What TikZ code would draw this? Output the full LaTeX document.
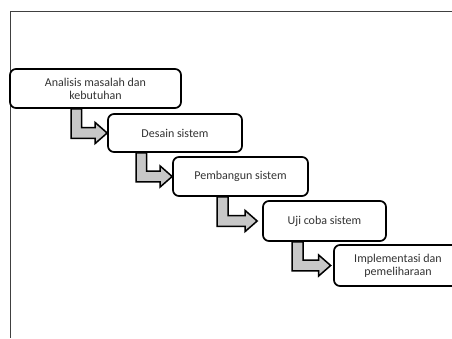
\documentclass[tikz,border=0pt]{standalone}
\usepackage{fontspec}
\setmainfont{Carlito}
\usetikzlibrary{calc,backgrounds}
\tikzset{
  stagebox/.style={draw=black, line width=1.7pt, rounded corners=6pt, fill=white,
    align=center, inner sep=0pt, font=\fontsize{12}{13}\selectfont, text=black!80},
  bentarrow/.style={draw=black, line width=1.5pt, fill=black!22, line join=miter},
  framerule/.style={draw=black!75, line width=0.9pt}
}
\begin{document}
\begin{tikzpicture}[x=1pt,y=1pt]
\clip (0,0) rectangle (452,338);
\useasboundingbox (0,0) rectangle (452,338);
\node[stagebox, minimum width=171, minimum height=39] (b1) at (95.5,249.5) {Analisis masalah dan\\kebutuhan};
\node[stagebox, minimum width=134, minimum height=38] (b2) at (175,205) {Desain sistem};
\node[stagebox, minimum width=135, minimum height=39] (b3) at (240.5,161.5) {Pembangun sistem};
\node[stagebox, minimum width=123, minimum height=40] (b4) at (324.5,117) {Uji coba sistem};
\node[stagebox, minimum width=128, minimum height=41] (b5) at (398,72.5) {Implementasi dan\\pemeliharaan};
\begin{scope}[on background layer]
\draw[framerule] (452,327) -- (10,327) -- (10,0);
\foreach \a/\b/\g/\xl/\xr in {b1/b2/0/36/25.5, b2/b3/0/36/25.5, b3/b4/5/40/29, b4/b5/2.5/38.5/27.5}{
  \path[bentarrow] let \p1=(\a.south), \p2=($(\b.west)+(-\g,0)$) in
    (\x2-\xl,\y1) -- (\x2-\xr,\y1) -- (\x2-\xr,\y2+5.3) -- (\x2-12,\y2+5.3)
    -- (\x2-12,\y2+10.5) -- (\x2,\y2) -- (\x2-12,\y2-10.5) -- (\x2-12,\y2-5.3)
    -- (\x2-\xl,\y2-5.3) -- cycle;
}
\end{scope}
\end{tikzpicture}
\end{document}
